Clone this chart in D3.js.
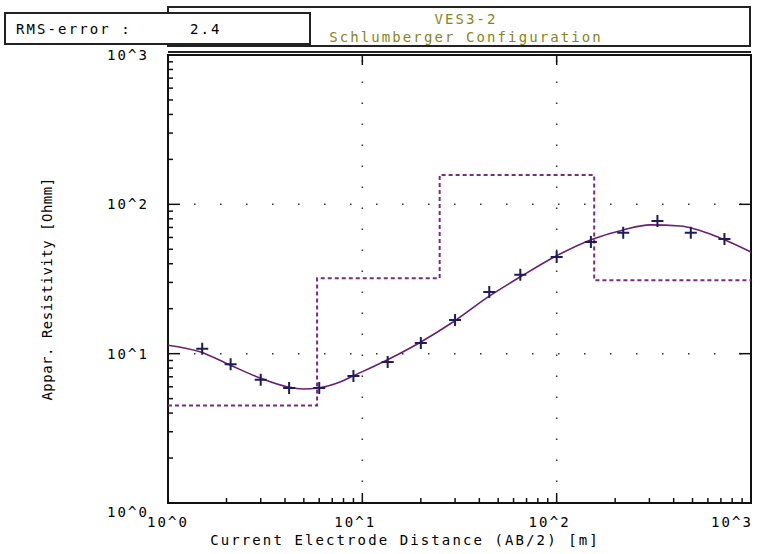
<!DOCTYPE html>
<html>
  <head>
    <meta charset="UTF-8">
    <title>VES3-2</title>
    <script src="https://d3js.org/d3.v7.min.js"></script>
    <style>
      body { margin: 0; background: #fff; }
      text { font-family: "DejaVu Sans Mono", monospace; font-size: 14px; letter-spacing: 2.1px; }
      text.vert { letter-spacing: 0.5px; }
    </style>
  </head>

  <body>
    <div class="chart"></div>

    <script type="application/javascript">
      // measured points (AB/2 in m, apparent resistivity in Ohmm)
      const abData = [1.5, 2.1, 3, 4.2, 6, 9, 13.5, 20, 30, 45, 65, 100, 150, 220, 330, 490, 730];
      const rhoData = [10.8, 8.5, 6.7, 5.9, 5.9, 7.1, 8.8, 11.8, 16.8, 25.9, 33.7, 44.4, 56, 64.4, 77.4, 64.4, 58.7];

      // calculated model curve
      const curveAB = [1, 1.46, 2.08, 2.98, 4.15, 4.95, 5.92, 7.68, 8.96, 13.4, 19.6, 29.3, 44.4, 64.8, 99.3, 154, 220, 303, 432, 693, 1000];
      const curveRho = [11.4, 10.3, 8.4, 6.87, 5.98, 5.8, 5.89, 6.46, 7.09, 9.07, 11.8, 16.3, 24.0, 32.6, 45.1, 58.7, 67.4, 72.8, 71.6, 59.6, 48.0];

      // layered model
      const layerRho = [4.5, 32, 157, 31];
      const layerDepth = [5.85, 25, 156];

      const decades = [1, 10, 100, 1000];
      const tickLabels = ["10^0", "10^1", "10^2", "10^3"];
      const rmsError = "2.4";

      const W = 764, H = 554;
      const m = {left: 168, right: 751, top: 55, bottom: 503};

      const svg = d3.select(".chart").append("svg")
        .attr("width", W).attr("height", H);

      const x = d3.scaleLog().domain([1, 1000]).range([m.left, m.right]);
      const y = d3.scaleLog().domain([1, 1000]).range([m.bottom, m.top]);

      // header
      svg.append("rect")
        .attr("x", 168).attr("y", 7).attr("width", 582).attr("height", 39)
        .attr("fill", "#fff").attr("stroke", "#222").attr("stroke-width", 2);
      svg.append("text").attr("x", 466).attr("y", 24)
        .attr("text-anchor", "middle").attr("fill", "#86861a").text("VES3-2");
      svg.append("text").attr("x", 466).attr("y", 42)
        .attr("text-anchor", "middle").attr("fill", "#86861a").text("Schlumberger Configuration");

      svg.append("rect")
        .attr("x", 5).attr("y", 13).attr("width", 305).attr("height", 31)
        .attr("fill", "#fff").attr("stroke", "#222").attr("stroke-width", 2);
      svg.append("text").attr("x", 16).attr("y", 34).text("RMS-error :");
      svg.append("text").attr("x", 190).attr("y", 34).text(rmsError);

      // grid
      const grid = svg.append("g").attr("stroke", "#333").attr("stroke-width", 1.5);
      [10, 100].forEach(d => {
        grid.append("line")
          .attr("x1", x(d)).attr("x2", x(d)).attr("y1", m.bottom).attr("y2", m.top)
          .attr("stroke-dasharray", "1.5,19.5");
        grid.append("line")
          .attr("x1", m.left).attr("x2", m.right).attr("y1", y(d)).attr("y2", y(d))
          .attr("stroke-dasharray", "1.5,24.5");
      });

      // ticks
      const minor = [];
      [1, 10, 100].forEach(d => { for (let k = 2; k < 10; k++) minor.push(d * k); });
      const ticks = svg.append("g").attr("stroke", "#111").attr("stroke-width", 1.5);
      minor.forEach(v => {
        ticks.append("line").attr("x1", m.left).attr("x2", m.left + 5).attr("y1", y(v)).attr("y2", y(v));
        ticks.append("line").attr("x1", x(v)).attr("x2", x(v)).attr("y1", m.bottom).attr("y2", m.bottom - 5);
      });
      [10, 100].forEach(v => {
        ticks.append("line").attr("x1", m.left).attr("x2", m.left + 12).attr("y1", y(v)).attr("y2", y(v));
        ticks.append("line").attr("x1", m.right).attr("x2", m.right - 12).attr("y1", y(v)).attr("y2", y(v));
        ticks.append("line").attr("x1", x(v)).attr("x2", x(v)).attr("y1", m.bottom).attr("y2", m.bottom - 10);
        ticks.append("line").attr("x1", x(v)).attr("x2", x(v)).attr("y1", m.top).attr("y2", m.top + 10);
      });

      // frame (top edge doubled like the original)
      svg.append("rect")
        .attr("x", m.left).attr("y", m.top)
        .attr("width", m.right - m.left).attr("height", m.bottom - m.top)
        .attr("fill", "none").attr("stroke", "#111").attr("stroke-width", 2);
      svg.append("line")
        .attr("x1", m.left).attr("x2", m.right).attr("y1", m.top - 3).attr("y2", m.top - 3)
        .attr("stroke", "#222").attr("stroke-width", 2);

      // tick labels
      decades.forEach((d, i) => {
        const cx = Math.min(Math.max(x(d) - 7, 168), 732);
        svg.append("text").attr("x", cx).attr("y", 527)
          .attr("text-anchor", "middle").text(tickLabels[i]);
        svg.append("text").attr("x", 149).attr("y", y(d) + (i == 0 ? 14 : 5))
          .attr("text-anchor", "end").text(tickLabels[i]);
      });

      svg.append("text").attr("x", 405).attr("y", 545)
        .attr("text-anchor", "middle").text("Current Electrode Distance (AB/2) [m]");
      svg.append("text").attr("class", "vert")
        .attr("transform", "translate(52,289) rotate(-90)")
        .attr("text-anchor", "middle").text("Appar. Resistivity [Ohmm]");

      // layered model (dashed step)
      const bounds = [1].concat(layerDepth);
      const steps = bounds.map((b, i) => [b, layerRho[i]]);
      steps.push([1000, layerRho[layerRho.length - 1]]);
      svg.append("path")
        .datum(steps)
        .attr("fill", "none").attr("stroke", "#7a2a80").attr("stroke-width", 2)
        .attr("stroke-dasharray", "4,3")
        .attr("d", d3.line().x(d => x(d[0])).y(d => y(d[1])).curve(d3.curveStepAfter));

      // model curve
      const curvePts = curveAB.map((a, i) => [a, curveRho[i]]);
      svg.append("path")
        .datum(curvePts)
        .attr("fill", "none").attr("stroke", "#6b1f6e").attr("stroke-width", 1.6)
        .attr("d", d3.line().x(d => x(d[0])).y(d => y(d[1])).curve(d3.curveMonotoneX));

      // measured data as crosses
      svg.append("g").selectAll("path")
        .data(abData.map((a, i) => [a, rhoData[i]]))
        .join("path")
        .attr("transform", d => `translate(${x(d[0])},${y(d[1])})`)
        .attr("d", "M-6,0H6M0,-6V6")
        .attr("stroke", "#1c1c5e").attr("stroke-width", 2);
    </script>
  </body>

</html>
